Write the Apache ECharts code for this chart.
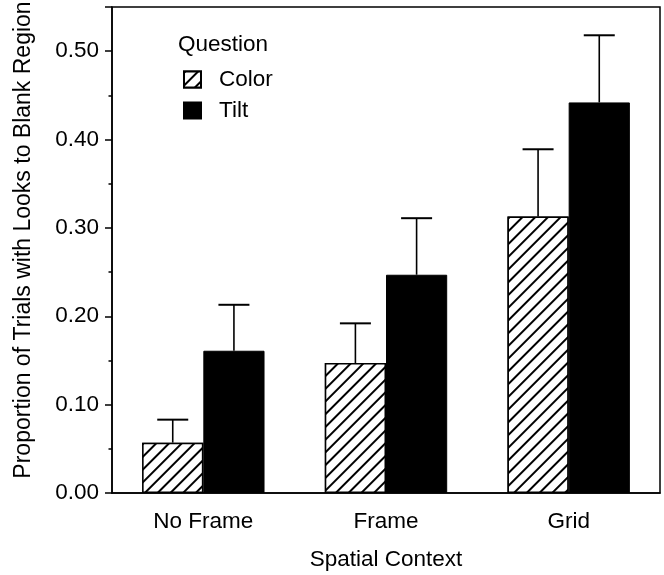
<!DOCTYPE html>
<html>
<head>
<meta charset="utf-8">
<script src="https://cdn.jsdelivr.net/npm/echarts@6/dist/echarts.min.js"></script>
<style>
  html, body { margin: 0; padding: 0; background: #fff; }
  #chart { width: 664px; height: 575px; }
</style>
</head>
<body>
<div id="chart"></div>
<script>
// values
const categories = ['No Frame', 'Frame', 'Grid']
const colorMeans = [0.057, 0.147, 0.313]
const colorUpper = [0.083, 0.192, 0.389]
const tiltMeans = [0.161, 0.247, 0.442]
const tiltUpper = [0.213, 0.311, 0.518]
const yTicks = [0, 0.1, 0.2, 0.3, 0.4, 0.5]

const FONT = 'Liberation Sans, Arial, Helvetica, sans-serif'
const FS = 22.5
const GAP = 0.33 // barCategoryGap

const chart = echarts.init(document.getElementById('chart'))

// error bar drawn upward only, with a cap
const errorBar = (side) => (params, api) => {
  const idx = api.value(0)
  const base = api.coord([idx, api.value(1)])
  const top = api.coord([idx, api.value(2)])
  const band = api.size([1, 0])[0]
  const cx = base[0] + side * band * (1 - GAP) / 4
  const half = 15.5
  return {
    type: 'group',
    children: [
      { type: 'line', shape: { x1: cx, y1: base[1], x2: cx, y2: top[1] }, style: { stroke: '#000', lineWidth: 1.6 } },
      { type: 'line', shape: { x1: cx - half, y1: top[1], x2: cx + half, y2: top[1] }, style: { stroke: '#000', lineWidth: 2 } }
    ]
  }
}

const option = {
  backgroundColor: '#fff',
  textStyle: { fontFamily: FONT, color: '#000' },
  title: {
    text: 'Question',
    left: 178,
    top: 33,
    padding: 0,
    textStyle: { fontFamily: FONT, fontSize: FS, fontWeight: 'normal', color: '#000' }
  },
  legend: {
    data: ['Color', 'Tilt'],
    orient: 'vertical',
    left: 183,
    top: 68,
    padding: 0,
    itemWidth: 17,
    itemHeight: 16,
    itemGap: 8,
    icon: 'rect',
    textStyle: { fontFamily: FONT, fontSize: FS, color: '#000', padding: [0, 0, 0, 13] }
  },
  grid: {
    left: 112,
    right: 4,
    top: 7,
    bottom: 82,
    show: true,
    borderColor: '#000',
    borderWidth: 1.5,
    containLabel: false,
    outerBoundsMode: 'none'
  },
  xAxis: {
    type: 'category',
    data: categories,
    name: 'Spatial Context',
    nameLocation: 'middle',
    nameGap: 55,
    nameTextStyle: { fontFamily: FONT, fontSize: FS, color: '#000' },
    axisLine: { lineStyle: { color: '#000', width: 1.5 } },
    axisTick: { alignWithLabel: true, length: 6, lineStyle: { color: '#000', width: 1.5 } },
    axisLabel: { margin: 17, fontFamily: FONT, fontSize: FS, color: '#000' },
    splitLine: { show: false }
  },
  yAxis: [
    {
      type: 'value',
      min: 0,
      max: 0.55,
      interval: 0.1,
      name: 'Proportion of Trials with Looks to Blank Region',
      nameLocation: 'middle',
      nameGap: 77,
      nameTextStyle: { fontFamily: FONT, fontSize: 23, color: '#000', padding: [0, 0, 0, 20] },
      axisLine: { show: true, lineStyle: { color: '#000', width: 1.5 } },
      axisTick: { show: true, length: 7, lineStyle: { color: '#000', width: 1.5 } },
      axisLabel: {
        margin: 13,
        fontFamily: FONT,
        fontSize: FS,
        color: '#000',
        formatter: (v) => yTicks.some(t => Math.abs(t - v) < 1e-6) ? v.toFixed(2) : ''
      },
      splitLine: { show: false }
    },
    {
      // short half-step ticks
      type: 'value',
      position: 'left',
      min: 0,
      max: 0.55,
      interval: 0.05,
      axisLine: { show: false },
      axisTick: { show: true, length: 3.5, lineStyle: { color: '#000', width: 1.5 } },
      axisLabel: { show: false },
      splitLine: { show: false }
    }
  ],
  series: [
    {
      name: 'Color',
      type: 'bar',
      data: colorMeans,
      barGap: '0%',
      barCategoryGap: '33%',
      itemStyle: {
        color: '#fff',
        borderColor: '#000',
        borderWidth: 1.5,
        decal: {
          symbol: 'rect',
          symbolSize: 1,
          dashArrayX: [1, 0],
          dashArrayY: [1.2, 6.5],
          rotation: -Math.PI / 4,
          color: '#000',
          backgroundColor: '#fff'
        }
      }
    },
    {
      name: 'Tilt',
      type: 'bar',
      data: tiltMeans,
      barGap: '0%',
      barCategoryGap: '33%',
      itemStyle: { color: '#000', borderColor: '#000', borderWidth: 1 }
    },
    {
      type: 'custom',
      renderItem: errorBar(-1),
      data: categories.map((c, i) => [i, colorMeans[i], colorUpper[i]]),
      encode: { x: 0, y: [1, 2] },
      z: 3
    },
    {
      type: 'custom',
      renderItem: errorBar(1),
      data: categories.map((c, i) => [i, tiltMeans[i], tiltUpper[i]]),
      encode: { x: 0, y: [1, 2] },
      z: 3
    }
  ]
}

chart.setOption(option)
</script>
</body>
</html>
